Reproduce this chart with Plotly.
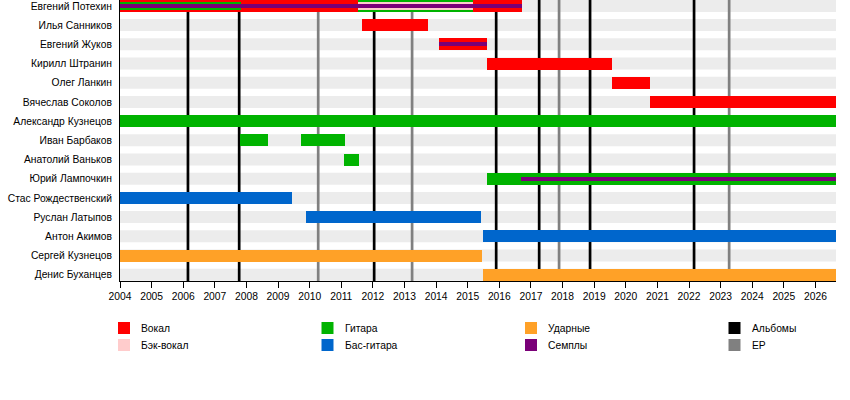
import plotly.graph_objects as go

members = ['Евгений Потехин', 'Илья Санников', 'Евгений Жуков', 'Кирилл Штранин',
           'Олег Ланкин', 'Вячеслав Соколов', 'Александр Кузнецов', 'Иван Барбаков',
           'Анатолий Ваньков', 'Юрий Лампочкин', 'Стас Рождественский', 'Руслан Латыпов',
           'Антон Акимов', 'Сергей Кузнецов', 'Денис Буханцев']

start_year = 2004
end_year = 2026.65

# full-height bars: row, from, to, role
main_row = [0, 1, 2, 3, 4, 5, 0, 6, 7, 7, 8, 9, 10, 11, 12, 13, 14]
main_from = [2004, 2011.66, 2014.09, 2015.61, 2019.56, 2020.77, 2011.53, 2004, 2007.80,
             2009.73, 2011.09, 2015.61, 2004, 2009.89, 2015.49, 2004, 2015.49]
main_to = [2016.72, 2013.75, 2015.61, 2019.56, 2020.77, end_year, 2015.17, end_year, 2008.68,
           2011.12, 2011.56, end_year, 2009.44, 2015.42, end_year, 2015.46, end_year]
main_role = ['vocal', 'vocal', 'vocal', 'vocal', 'vocal', 'vocal', 'guitar', 'guitar', 'guitar',
             'guitar', 'guitar', 'guitar', 'bass', 'bass', 'bass', 'drums', 'drums']

# medium bars
mid_row = [0, 0]
mid_from = [2004, 2011.53]
mid_to = [2007.84, 2015.17]
mid_role = ['guitar', 'backing']

# thin bars
thin_row = [0, 2, 9]
thin_from = [2004, 2014.09, 2016.69]
thin_to = [2016.72, 2015.61, end_year]
thin_role = ['samples', 'samples', 'samples']

albums = [2006.15, 2007.77, 2012.04, 2015.90, 2017.26, 2018.87, 2022.16]
eps = [2010.27, 2013.24, 2017.89, 2023.27]

years = list(range(2004, 2027))

roles = ['vocal', 'backing', 'guitar', 'bass', 'drums', 'samples']
role_colors = {'vocal': '#FF0000', 'backing': '#FFCCCC', 'guitar': '#00B300',
               'bass': '#0066CC', 'drums': '#FFA127', 'samples': '#7A0078'}

legend_labels = ['Вокал', 'Бэк-вокал', 'Гитара', 'Бас-гитара', 'Ударные', 'Семплы', 'Альбомы', 'EP']
legend_colors = ['#FF0000', '#FFCCCC', '#00B300', '#0066CC', '#FFA127', '#7A0078', '#000000', '#808080']

W, H = 850, 400
L, R, T, B = 120, 14, 0, 119
row_px = 19.2
bar_px = 12

fig = go.Figure()

def add_layer(rows, froms, tos, rolelist, thickness):
    for role in roles:
        idx = [i for i, r in enumerate(rolelist) if r == role]
        if not idx:
            continue
        fig.add_trace(go.Bar(
            orientation='h',
            y=[rows[i] for i in idx],
            base=[froms[i] for i in idx],
            x=[tos[i] - froms[i] for i in idx],
            width=thickness / row_px,
            marker=dict(color=role_colors[role], line=dict(width=0)),
            hoverinfo='skip', showlegend=False))

add_layer(main_row, main_from, main_to, main_role, bar_px)
add_layer(mid_row, mid_from, mid_to, mid_role, 8)
add_layer(thin_row, thin_from, thin_to, thin_role, 4)

y_top = -5.9 / row_px
y_bottom = 14 + 6.3 / row_px

shapes = []
half = bar_px / row_px / 2
for i in range(len(members)):
    shapes.append(dict(type='rect', layer='below', xref='x', yref='y',
                       x0=start_year, x1=end_year, y0=i - half, y1=i + half,
                       fillcolor='#ECECEC', line=dict(width=0)))
for a in albums:
    shapes.append(dict(type='line', layer='below', xref='x', yref='y',
                       x0=a, x1=a, y0=y_top, y1=y_bottom, line=dict(color='black', width=2.7)))
for e in eps:
    shapes.append(dict(type='line', layer='below', xref='x', yref='y',
                       x0=e, x1=e, y0=y_top, y1=y_bottom, line=dict(color='#808080', width=2.7)))

# legend below the chart, 4 columns x 2 rows
plot_w = W - L - R
plot_h = H - T - B
annotations = []
for k, (lab, col) in enumerate(zip(legend_labels, legend_colors)):
    cx = 118 + (k // 2) * 203.5
    cy = 322 + (k % 2) * 17
    shapes.append(dict(type='rect', xref='paper', yref='paper',
                       x0=(cx - L) / plot_w, x1=(cx + 12 - L) / plot_w,
                       y0=(T + plot_h - cy) / plot_h, y1=(T + plot_h - cy - 12) / plot_h,
                       fillcolor=col, line=dict(width=0)))
    annotations.append(dict(text=lab, xref='paper', yref='paper', showarrow=False,
                            x=(cx + 21 - L) / plot_w, y=(T + plot_h - cy - 6) / plot_h,
                            xanchor='left', yanchor='middle', font=dict(size=10.3, color='black')))

fig.update_layout(
    template='none',
    width=W, height=H,
    margin=dict(l=L, r=R, t=T, b=B, pad=0),
    barmode='overlay',
    bargap=0,
    paper_bgcolor='white', plot_bgcolor='white',
    font=dict(family='Liberation Sans, Arial, sans-serif', size=10.3, color='black'),
    shapes=shapes, annotations=annotations,
    showlegend=False,
    xaxis=dict(range=[start_year, end_year], tickvals=years, ticktext=[str(y) for y in years],
               showgrid=False, zeroline=False, showline=True, linecolor='black', linewidth=1,
               ticks='outside', ticklen=6, tickcolor='black', tickwidth=1, automargin=False),
    yaxis=dict(range=[y_bottom, y_top], tickvals=list(range(len(members))),
               ticktext=members, showgrid=False, zeroline=False, showline=True,
               linecolor='black', linewidth=1, ticks='', ticklabelstandoff=5, automargin=False),
)

fig.write_html("out.html", config={'displayModeBar': False},
               post_script="document.body.style.margin='0';")
